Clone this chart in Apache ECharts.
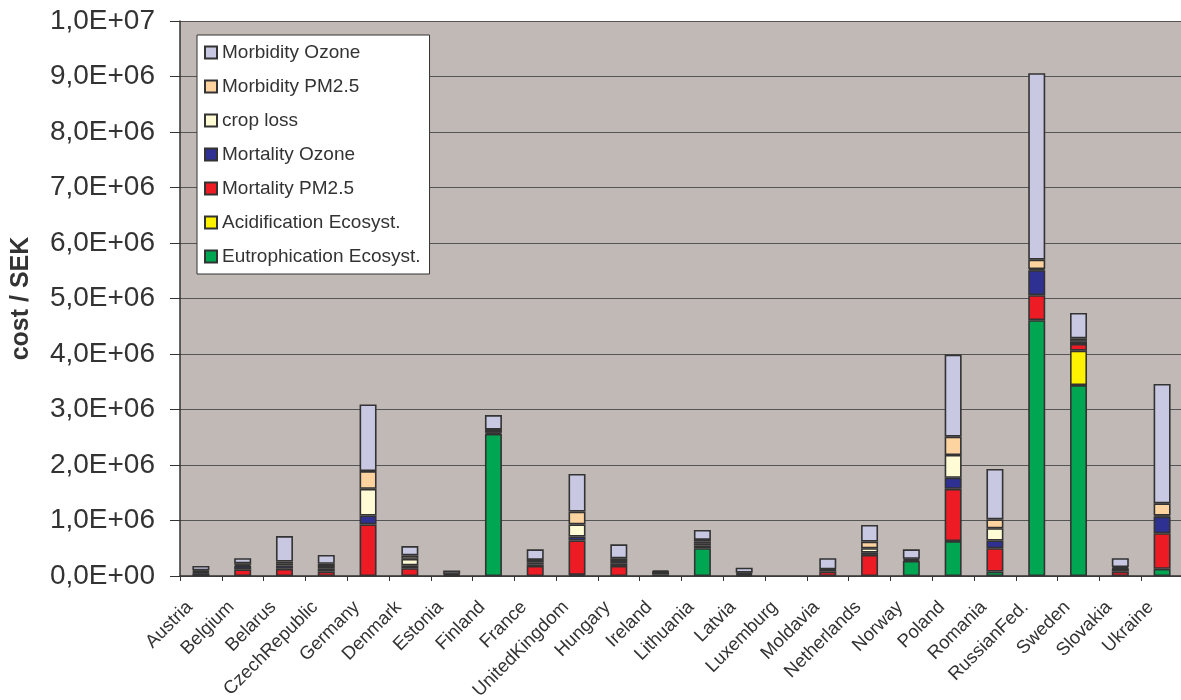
<!DOCTYPE html>
<html>
<head>
<meta charset="utf-8">
<script src="https://cdn.jsdelivr.net/npm/echarts@6/dist/echarts.min.js"></script>
<style>
html,body{margin:0;padding:0;background:#fff;}
#chart{width:1181px;height:700px;}
</style>
</head>
<body>
<div id="chart"></div>
<script>
const countries = ['Austria','Belgium','Belarus','CzechRepublic','Germany','Denmark','Estonia','Finland','France','UnitedKingdom','Hungary','Ireland','Lithuania','Latvia','Luxemburg','Moldavia','Netherlands','Norway','Poland','Romania','RussianFed.','Sweden','Slovakia','Ukraine'];

// values in millions of SEK (multiplied below)
const eutrophication = [0,0,0,0,0,0,0,2.56,0,0.02,0,0,0.50,0.02,0,0,0,0.27,0.63,0.08,4.61,3.44,0,0.13];
const acidification  = [0,0,0,0,0,0,0,0,0,0,0,0,0,0,0,0,0,0,0,0,0,0.62,0,0];
const mortalityPM    = [0.05,0.12,0.13,0.08,0.93,0.14,0.01,0.02,0.18,0.62,0.18,0.03,0.05,0.02,0,0.08,0.38,0.02,0.94,0.42,0.45,0.12,0.08,0.64];
const mortalityOzone = [0.02,0.06,0.06,0.05,0.16,0.05,0.02,0.04,0.03,0.07,0.04,0.03,0.03,0.02,0,0.03,0.04,0.02,0.20,0.14,0.45,0.04,0.05,0.30];
const cropLoss       = [0.01,0.02,0.03,0.05,0.48,0.12,0,0.01,0.03,0.22,0.05,0.01,0.04,0,0,0.01,0.08,0,0.41,0.22,0.02,0.03,0.01,0.02];
const morbidityPM    = [0.02,0.03,0.04,0.04,0.32,0.06,0.01,0.01,0.05,0.23,0.05,0.01,0.03,0,0,0,0.12,0,0.33,0.16,0.17,0.03,0.02,0.22];
const morbidityOzone = [0.08,0.09,0.46,0.16,1.20,0.17,0.06,0.26,0.19,0.68,0.25,0.02,0.18,0.09,0,0.20,0.30,0.17,1.48,0.91,3.36,0.46,0.16,2.15];

const yTickLabels = ['0,0E+00','1,0E+06','2,0E+06','3,0E+06','4,0E+06','5,0E+06','6,0E+06','7,0E+06','8,0E+06','9,0E+06','1,0E+07'];

const seriesDefs = [
  {name:'Eutrophication Ecosyst.', data:eutrophication, color:'#00A651'},
  {name:'Acidification Ecosyst.', data:acidification, color:'#FFF200'},
  {name:'Mortality PM2.5', data:mortalityPM, color:'#ED1C24'},
  {name:'Mortality Ozone', data:mortalityOzone, color:'#2E3192'},
  {name:'crop loss', data:cropLoss, color:'#FFFBD4'},
  {name:'Morbidity PM2.5', data:morbidityPM, color:'#FDD3A0'},
  {name:'Morbidity Ozone', data:morbidityOzone, color:'#C8C8E2'}
];
const legendOrder = ['Morbidity Ozone','Morbidity PM2.5','crop loss','Mortality Ozone','Mortality PM2.5','Acidification Ecosyst.','Eutrophication Ecosyst.'];

const FONT = '"Liberation Sans", Arial, sans-serif';
const chart = echarts.init(document.getElementById('chart'), null, {renderer:'canvas'});
chart.setOption({
  animation:false,
  backgroundColor:'#ffffff',
  textStyle:{fontFamily:FONT},
  grid:{left:180, top:21, width:1003, height:555, show:true, backgroundColor:'#C1B9B6', borderWidth:0, containLabel:false, outerBoundsMode:'none'},
  legend:{
    data:legendOrder, orient:'vertical', left:197, top:35, icon:'rect',
    backgroundColor:'#ffffff', borderColor:'#333333', borderWidth:1,
    padding:[8,9,8,7], itemWidth:12, itemHeight:12, itemGap:15,
    textStyle:{fontFamily:FONT, fontSize:19, color:'#333333', lineHeight:19},
    selectedMode:false
  },
  xAxis:{
    type:'category', data:countries,
    axisLine:{lineStyle:{color:'#333333', width:1.5}},
    axisTick:{show:true, length:5, alignWithLabel:false, lineStyle:{color:'#333333'}},
    axisLabel:{rotate:45, fontSize:18.5, color:'#333333', fontFamily:FONT, margin:17, padding:[0,16,0,0], interval:0}
  },
  yAxis:{
    type:'value', min:0, max:1e7, interval:1e6,
    name:'cost / SEK', nameLocation:'middle', nameRotate:90, nameGap:146,
    nameTextStyle:{fontSize:25, fontWeight:'bold', color:'#333333', fontFamily:FONT},
    axisLine:{show:true, lineStyle:{color:'#333333', width:1.5}},
    axisTick:{show:true, length:10, inside:false, lineStyle:{color:'#333333'}},
    axisLabel:{fontSize:28, color:'#333333', fontFamily:FONT, margin:25,
      formatter:function(v){return yTickLabels[Math.round(v/1e6)];}},
    splitLine:{show:true, lineStyle:{color:'#555555', width:1.2}}
  },
  series: seriesDefs.map(s => ({
    name:s.name, type:'bar', stack:'total', barWidth:17,
    itemStyle:{color:s.color, borderColor:'#333333', borderWidth:1.6},
    emphasis:{disabled:true},
    data:s.data.map(v => v > 0 ? v*1e6 : null)
  }))
});
</script>
</body>
</html>
